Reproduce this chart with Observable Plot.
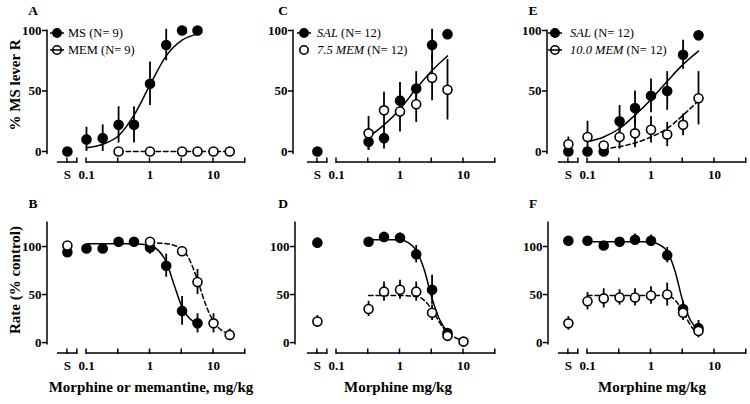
<!DOCTYPE html>
<html><head><meta charset="utf-8">
<script src="https://cdn.jsdelivr.net/npm/d3@7"></script>
<script src="https://cdn.jsdelivr.net/npm/@observablehq/plot@0.6"></script>
<style>
body{margin:0;background:#fff;}
#root{position:relative;width:750px;height:404px;overflow:hidden;font-family:"Liberation Serif","Times New Roman",serif;}
#root > svg{position:absolute;}
</style></head>
<body><div id="root"></div>
<script>
// ---------- data ----------
const xTickLabels = ["S", 0.1, 1, 10];
const yTicks = [0, 50, 100];

// Panel A: drug discrimination, MS vs MEM
const A_ms_dose = ["S",0.1,0.18,0.32,0.56,1,1.8,3.2,5.6];
const A_ms_mean = [0,10,11,22,22,56,88,100,100];
const A_ms_sem  = [0,10,11,15,15,18,13,0,0];
const A_mem_dose = [0.32,1,3.2,5.6,10,18];
const A_mem_mean = [0,0,0,0,0,0];
const A_mem_sem  = [0,0,0,0,0,0];
const A_ms_fit_dose = [0.1,0.18,0.32,0.56,1,1.8,3.2,5.6];
const A_ms_fit      = [3,6,13,30,55,79,92,97];
const A_mem_fit_dose = [0.32,18];
const A_mem_fit      = [0,0];

// Panel C: SAL vs 7.5 MEM
const C_sal_dose = ["S",0.32,0.56,1,1.8,3.2,5.6];
const C_sal_mean = [0,8,11,42,52,88,97];
const C_sal_sem  = [0,7,9,15,14,13,0];
const C_mem_dose = [0.32,0.56,1,1.8,3.2,5.6];
const C_mem_mean = [15,34,33,39,61,51];
const C_mem_sem  = [14,15,17,15,19,25];
const C_fit_dose = [0.32,0.56,1,1.8,3.2,5.6];
const C_fit      = [12,22,35,52,67,79];

// Panel E: SAL vs 10.0 MEM
const E_sal_dose = ["S",0.1,0.18,0.32,0.56,1,1.8,3.2,5.6];
const E_sal_mean = [0,0,0,25,36,46,50,80,96];
const E_sal_sem  = [0,0,0,13,14,14,16,12,0];
const E_mem_dose = ["S",0.1,0.18,0.32,0.56,1,1.8,3.2,5.6];
const E_mem_mean = [6,12,5,12,15,18,14,22,44];
const E_mem_sem  = [6,13,0,10,12,11,10,9,22];
const E_sal_fit_dose = [0.1,0.18,0.32,0.56,1,1.8,3.2,5.6];
const E_sal_fit      = [8,12,19,30,43,58,72,83];
const E_mem_fit_dose = [0.18,0.32,0.56,1,1.8,3.2,5.6];
const E_mem_fit      = [2,4,7,12,19,30,42];

// Panel B: rate, MS vs MEM
const B_ms_dose = ["S",0.1,0.18,0.32,0.56,1,1.8,3.2,5.6];
const B_ms_mean = [94,98,98,105,105,99,80,33,20];
const B_ms_sem  = [0,3,4,3,4,7,12,15,10];
const B_mem_dose = ["S",1,3.2,5.6,10,18];
const B_mem_mean = [101,105,95,63,20,8];
const B_mem_sem  = [0,0,5,13,10,6];
const B_ms_fit_dose = [0.1,0.18,0.32,0.56,1,1.35,1.8,2.4,3.2,4.2,5.6];
const B_ms_fit      = [103,103,103,103,101,96,84,60,37,25,20];
const B_mem_fit_dose = [1,1.8,3.2,4.2,5.6,7.5,10,13.3,18];
const B_mem_fit      = [104,103,97,86,65,40,22,13,9];

// Panel D: rate, SAL vs 7.5 MEM
const D_sal_dose = ["S",0.32,0.56,1,1.8,3.2,5.6];
const D_sal_mean = [104,105,110,109,92,55,10];
const D_sal_sem  = [0,0,0,5,9,15,4];
const D_mem_dose = ["S",0.32,0.56,1,1.8,3.2,5.6,10];
const D_mem_mean = [22,35,53,55,53,31,7,1];
const D_mem_sem  = [6,8,10,10,10,8,3,0];
const D_sal_fit_dose = [0.32,0.56,1,1.35,1.8,2.4,3.2,4.2,5.6];
const D_sal_fit      = [107,107,107,104,96,76,46,24,11];
const D_mem_fit_dose = [0.32,0.56,1,1.8,2.4,3.2,4.2,5.6,7.5,10];
const D_mem_fit      = [49,49,49,48,44,34,21,10,5,2];

// Panel F: rate, SAL vs 10.0 MEM
const F_sal_dose = ["S",0.1,0.18,0.32,0.56,1,1.8,3.2,5.6];
const F_sal_mean = [106,106,101,105,107,106,91,35,15];
const F_sal_sem  = [0,0,0,0,6,6,8,8,8];
const F_mem_dose = ["S",0.1,0.18,0.32,0.56,1,1.8,3.2,5.6];
const F_mem_mean = [20,43,46,47,47,49,50,31,12];
const F_mem_sem  = [7,9,10,8,9,9,12,8,7];
const F_sal_fit_dose = [0.1,0.32,1,1.35,1.8,2.4,3.2,4.2,5.6];
const F_sal_fit      = [105,105,105,102,95,74,42,23,13];
const F_mem_fit_dose = [0.1,0.32,1,1.8,2.4,3.2,4.2,5.6];
const F_mem_fit      = [49,49,49,49,44,32,18,7];

// ---------- layout ----------
const S_POS = 0.05;              // plotting position of saline "S" on the log axis
const DEC = 63.5;                // px per decade
const FONT = "'Liberation Serif', 'Times New Roman', serif";

const panels = [
  {letter:"A", row:0, left:0,   axisX:47,  gap:39,
   series:[{dose:A_ms_dose,mean:A_ms_mean,sem:A_ms_sem,filled:true},{dose:A_mem_dose,mean:A_mem_mean,sem:A_mem_sem,filled:false}],
   curves:[{x:A_ms_fit_dose,y:A_ms_fit,dashed:false},{x:A_mem_fit_dose,y:A_mem_fit,dashed:true}],
   legend:{mx:57, tx:68, rows:[{filled:true,line:true,parts:[["MS (N= 9)",false]]},{filled:false,line:true,parts:[["MEM (N= 9)",false]]}]}},
  {letter:"C", row:0, left:250, axisX:293, gap:43,
   series:[{dose:C_sal_dose,mean:C_sal_mean,sem:C_sal_sem,filled:true},{dose:C_mem_dose,mean:C_mem_mean,sem:C_mem_sem,filled:false}],
   curves:[{x:C_fit_dose,y:C_fit,dashed:false}],
   legend:{mx:304, tx:317, rows:[{filled:true,line:true,parts:[["SAL",true],[" (N= 12)",false]]},{filled:false,line:false,parts:[["7.5 MEM",true],[" (N= 12)",false]]}]}},
  {letter:"E", row:0, left:500, axisX:547, gap:40,
   series:[{dose:E_sal_dose,mean:E_sal_mean,sem:E_sal_sem,filled:true},{dose:E_mem_dose,mean:E_mem_mean,sem:E_mem_sem,filled:false}],
   curves:[{x:E_sal_fit_dose,y:E_sal_fit,dashed:false},{x:E_mem_fit_dose,y:E_mem_fit,dashed:true}],
   legend:{mx:555, tx:570, rows:[{filled:true,line:true,parts:[["SAL",true],[" (N= 12)",false]]},{filled:false,line:true,parts:[["10.0 MEM",true],[" (N= 12)",false]]}]}},
  {letter:"B", row:1, left:0,   axisX:47,  gap:39,
   series:[{dose:B_ms_dose,mean:B_ms_mean,sem:B_ms_sem,filled:true},{dose:B_mem_dose,mean:B_mem_mean,sem:B_mem_sem,filled:false}],
   curves:[{x:B_ms_fit_dose,y:B_ms_fit,dashed:false},{x:B_mem_fit_dose,y:B_mem_fit,dashed:true}]},
  {letter:"D", row:1, left:250, axisX:295, gap:41,
   series:[{dose:D_sal_dose,mean:D_sal_mean,sem:D_sal_sem,filled:true},{dose:D_mem_dose,mean:D_mem_mean,sem:D_mem_sem,filled:false}],
   curves:[{x:D_sal_fit_dose,y:D_sal_fit,dashed:false},{x:D_mem_fit_dose,y:D_mem_fit,dashed:true}]},
  {letter:"F", row:1, left:500, axisX:548, gap:39,
   series:[{dose:F_sal_dose,mean:F_sal_mean,sem:F_sal_sem,filled:true},{dose:F_mem_dose,mean:F_mem_mean,sem:F_mem_sem,filled:false}],
   curves:[{x:F_sal_fit_dose,y:F_sal_fit,dashed:false},{x:F_mem_fit_dose,y:F_mem_fit,dashed:true}]}
];

const root = document.getElementById("root");
const posOf = d => d === "S" ? S_POS : d;

function makePanel(p) {
  const top = p.row === 0;
  const W = 250;
  const H = top ? 190 : 214;
  const ml = p.axisX - p.left;
  const lo = 0.1 * Math.pow(10, -p.gap / DEC);
  const hi = Math.pow(10, 1.5);
  const yDom = top ? [-2, 100] : [-2, 125];
  const yRange = top ? [153.4, 30] : [154, 32];
  const mb = top ? 28 : 51;
  const marks = [];
  for (const c of p.curves) {
    marks.push(Plot.line(c.x.map((x, i) => ({x, y: c.y[i]})), {
      x: "x", y: "y", curve: "monotone-x", stroke: "black", strokeWidth: 1.5,
      strokeDasharray: c.dashed ? "4.5,3" : null
    }));
  }
  const rowsets = p.series.map(s => s.dose.map((d, i) => ({x: posOf(d), y: s.mean[i], e: s.sem[i]})));
  rowsets.forEach(r => marks.push(Plot.ruleX(r.filter(d => d.e > 0), {
    x: "x", y1: d => d.y - d.e, y2: d => d.y + d.e, stroke: "black", strokeWidth: 1.8
  })));
  rowsets.forEach((r, k) => marks.push(Plot.dot(r, {
    x: "x", y: "y", r: 4.5, fill: p.series[k].filled ? "black" : "white", stroke: "black", strokeWidth: 1.6
  })));
  marks.push(Plot.axisY({ticks: yTicks, tickSize: 5, tickPadding: 1, fontSize: 13, fontWeight: "bold", strokeWidth: 1.5, label: null}));
  marks.push(Plot.text(xTickLabels, {
    x: posOf, text: d => String(d), frameAnchor: "bottom", dy: 7, lineAnchor: "top",
    fontSize: 13, fontWeight: "bold", fill: "black"
  }));

  const chart = Plot.plot({
    width: W, height: H, marginLeft: ml, marginRight: 0, marginTop: top ? 30 : 32, marginBottom: mb,
    x: {type: "log", domain: [lo, hi], range: [ml, ml + p.gap + 2.5 * DEC], axis: null},
    y: {domain: yDom, range: yRange, label: null},
    style: {background: "transparent", fontFamily: FONT, overflow: "visible", color: "black"},
    marks
  });
  chart.style.left = p.left + "px";
  chart.style.top = (top ? 0 : 190) + "px";

  // axis lines (broken x-axis) drawn with the plot's own scales
  const sx = chart.scale("x"), sy = chart.scale("y");
  const svg = d3.select(chart);
  const g = svg.insert("g", ":first-child").attr("stroke", "black").attr("stroke-width", 1.5).attr("fill", "none");
  g.append("line").attr("x1", ml).attr("x2", ml).attr("y1", sy.apply(yDom[0]) + 0.5).attr("y2", sy.apply(yDom[1]) - 0.5);
  const ay = H - mb;
  const leftSeg = [S_POS / Math.pow(10, 0.157), S_POS * Math.pow(10, 0.157)];
  const rightSeg = [0.1, hi];
  [leftSeg, rightSeg].forEach(s => g.append("line").attr("x1", sx.apply(s[0])).attr("x2", sx.apply(s[1])).attr("y1", ay).attr("y2", ay));
  const tickVals = [S_POS, leftSeg[1], 0.1, Math.sqrt(10) / 10, 1, Math.sqrt(10), 10, hi];
  tickVals.forEach(v => g.append("line").attr("x1", sx.apply(v)).attr("x2", sx.apply(v)).attr("y1", ay + 1).attr("y2", ay - 4.5));

  // legend
  if (p.legend) {
    const L = p.legend;
    L.rows.forEach((r, i) => {
      const yy = 33 + i * 17;
      const lx = L.mx - p.left, tx = L.tx - p.left;
      const lg = svg.append("g");
      if (r.line) lg.append("line").attr("x1", lx - 7).attr("x2", lx + 7).attr("y1", yy).attr("y2", yy).attr("stroke", "black").attr("stroke-width", 1.5);
      lg.append("circle").attr("cx", lx).attr("cy", yy).attr("r", 4.2).attr("fill", r.filled ? "black" : (r.line ? "none" : "white")).attr("stroke", "black").attr("stroke-width", 1.6);
      const t = lg.append("text").attr("x", tx).attr("y", yy + 4).attr("text-anchor", "start").attr("font-size", 12.5).attr("font-family", FONT).attr("fill", "black");
      r.parts.forEach(([s, it]) => t.append("tspan").attr("font-style", it ? "italic" : "normal").text(s));
    });
  }
  root.appendChild(chart);
}
panels.forEach(makePanel);

// titles and panel letters
const ov = d3.select(root).append("svg").attr("width", 750).attr("height", 404).style("left", "0px").style("top", "0px")
  .attr("font-family", FONT).attr("font-weight", "bold").attr("fill", "black");
panels.forEach(p => ov.append("text").attr("x", p.left + 33).attr("y", p.row === 0 ? 15 : 208).attr("text-anchor", "middle").attr("font-size", 13.5).text(p.letter));
const yTitles = [["% MS lever R", 85], ["Rate (% control)", 280]];
yTitles.forEach(([t, cy]) => ov.append("text").attr("transform", `translate(20,${cy}) rotate(-90)`).attr("text-anchor", "middle").attr("font-size", 15).text(t));
const xTitles = [["Morphine or memantine, mg/kg", 151], ["Morphine mg/kg", 398], ["Morphine mg/kg", 652]];
xTitles.forEach(([t, cx]) => ov.append("text").attr("x", cx).attr("y", 392).attr("text-anchor", "middle").attr("font-size", 15).text(t));
</script>
</body></html>
